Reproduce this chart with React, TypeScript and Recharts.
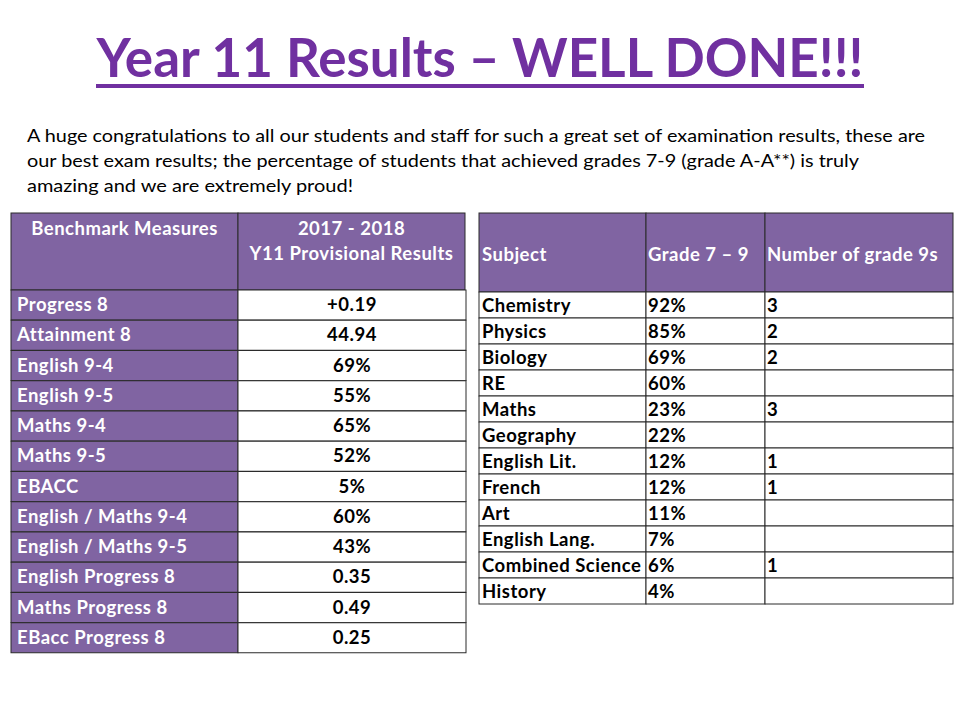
import React from 'react';
import { BarChart, Bar, XAxis, YAxis } from 'recharts';

// benchmark table
const measures = [
  'Progress 8',
  'Attainment 8',
  'English 9-4',
  'English 9-5',
  'Maths 9-4',
  'Maths 9-5',
  'EBACC',
  'English / Maths 9-4',
  'English / Maths 9-5',
  'English Progress 8',
  'Maths Progress 8',
  'EBacc Progress 8',
];
const results = ['+0.19', '44.94', '69%', '55%', '65%', '52%', '5%', '60%', '43%', '0.35', '0.49', '0.25'];

// subject table
const subjects = [
  'Chemistry',
  'Physics',
  'Biology',
  'RE',
  'Maths',
  'Geography',
  'English Lit.',
  'French',
  'Art',
  'English Lang.',
  'Combined Science',
  'History',
];
const grade79 = [92, 85, 69, 60, 23, 22, 12, 12, 11, 7, 6, 4];
const grade9s = [3, 2, 2, null, 3, null, 1, 1, null, null, 1, null];

const paragraph = [
  'A huge congratulations to all our students and staff for such a great set of examination results, these are',
  'our best exam results; the percentage of students that achieved grades 7-9 (grade A-A**) is truly',
  'amazing and we are extremely proud!',
];
const paragraphWidths = [898, 832, 326];

const FONT = 'Lato, "Open Sans", sans-serif';
const PURPLE = '#8064A2';
const TITLE = '#7030A0';
const LINE = '#2b2b2b';

const cellText = { fontWeight: 'bold' as const, fontSize: 18.5, letterSpacing: 0.5, fontFamily: FONT };

const measureRows = measures.map((measure, i) => ({ measure, result: results[i] }));
const subjectRows = subjects.map((subject, i) => ({ subject, grade: grade79[i], nines: grade9s[i] }));

function MeasureRow(props: any) {
  const { x, y, width, height, payload } = props;
  const split = 227;
  const base = y + height / 2 + 6;
  return (
    <g>
      <rect x={x} y={y} width={split} height={height} fill={PURPLE} stroke={LINE} />
      <rect x={x + split} y={y} width={width - split} height={height} fill="#fff" stroke={LINE} />
      <text x={x + 6} y={base} fill="#fff" {...cellText}>
        {payload.measure}
      </text>
      <text x={x + split + (width - split) / 2} y={base} textAnchor="middle" fill="#000" {...cellText}>
        {payload.result}
      </text>
    </g>
  );
}

function SubjectRow(props: any) {
  const { x, y, width, height, payload } = props;
  const c1 = 167;
  const c2 = 286;
  const base = y + height / 2 + 7;
  return (
    <g>
      <rect x={x} y={y} width={c1} height={height} fill="#fff" stroke={LINE} />
      <rect x={x + c1} y={y} width={c2 - c1} height={height} fill="#fff" stroke={LINE} />
      <rect x={x + c2} y={y} width={width - c2} height={height} fill="#fff" stroke={LINE} />
      <text x={x + 3} y={base} fill="#000" {...cellText}>{payload.subject}</text>
      <text x={x + c1 + 2} y={base} fill="#000" {...cellText}>{payload.grade}%</text>
      <text x={x + c2 + 2} y={base} fill="#000" {...cellText}>{payload.nines ?? ''}</text>
    </g>
  );
}

function Header() {
  const hd = { fill: '#fff', ...cellText };
  return (
    <svg width={960} height={300} style={{ position: 'absolute', left: 0, top: 0 }}>
      <text
        x={480}
        y={77}
        textAnchor="middle"
        fill={TITLE}
        fontWeight="bold"
        fontSize={54}
        fontFamily={FONT}
        textLength={767}
        lengthAdjust="spacingAndGlyphs"
      >
        Year 11 Results – WELL DONE!!!
      </text>
      <rect x={96} y={84} width={768} height={4} fill={TITLE} />
      {paragraph.map((line, i) => (
        <text
          key={i}
          x={27}
          y={142 + i * 25}
          fill="#000"
          fontSize={17}
          fontFamily={FONT}
          textLength={paragraphWidths[i]}
          lengthAdjust="spacingAndGlyphs"
        >
          {line}
        </text>
      ))}

      {/* benchmark header */}
      <rect x={11} y={213} width={227} height={77} fill={PURPLE} stroke={LINE} />
      <rect x={238} y={213} width={227} height={77} fill={PURPLE} stroke={LINE} />
      <text x={124.5} y={235} textAnchor="middle" {...hd}>Benchmark Measures</text>
      <text x={351.5} y={235} textAnchor="middle" {...hd}>2017 - 2018</text>
      <text x={351.5} y={260} textAnchor="middle" {...hd}>Y11 Provisional Results</text>

      {/* subject header */}
      <rect x={479} y={213} width={167} height={79} fill={PURPLE} stroke={LINE} />
      <rect x={646} y={213} width={119} height={79} fill={PURPLE} stroke={LINE} />
      <rect x={765} y={213} width={188} height={79} fill={PURPLE} stroke={LINE} />
      <text x={482} y={261} {...hd}>Subject</text>
      <text x={648} y={261} {...hd}>Grade 7 – 9</text>
      <text x={767} y={261} {...hd}>Number of grade 9s</text>
    </svg>
  );
}

export default function App() {
  return (
    <div style={{ position: 'absolute', left: 0, top: 0, width: 960, height: 720, background: '#fff' }}>
      <Header />
      <div style={{ position: 'absolute', left: 10, top: 289 }}>
        <BarChart
          width={457}
          height={365}
          data={measureRows}
          layout="vertical"
          barCategoryGap={0}
          margin={{ top: 1, right: 1, bottom: 1, left: 1 }}
        >
          <XAxis type="number" domain={[0, 1]} hide />
          <YAxis type="category" dataKey="measure" hide />
          <Bar dataKey={() => 1} shape={MeasureRow} isAnimationActive={false} />
        </BarChart>
      </div>
      <div style={{ position: 'absolute', left: 478, top: 291 }}>
        <BarChart
          width={476}
          height={314}
          data={subjectRows}
          layout="vertical"
          barCategoryGap={0}
          margin={{ top: 1, right: 1, bottom: 1, left: 1 }}
        >
          <XAxis type="number" domain={[0, 1]} hide />
          <YAxis type="category" dataKey="subject" hide />
          <Bar dataKey={() => 1} shape={SubjectRow} isAnimationActive={false} />
        </BarChart>
      </div>
    </div>
  );
}
